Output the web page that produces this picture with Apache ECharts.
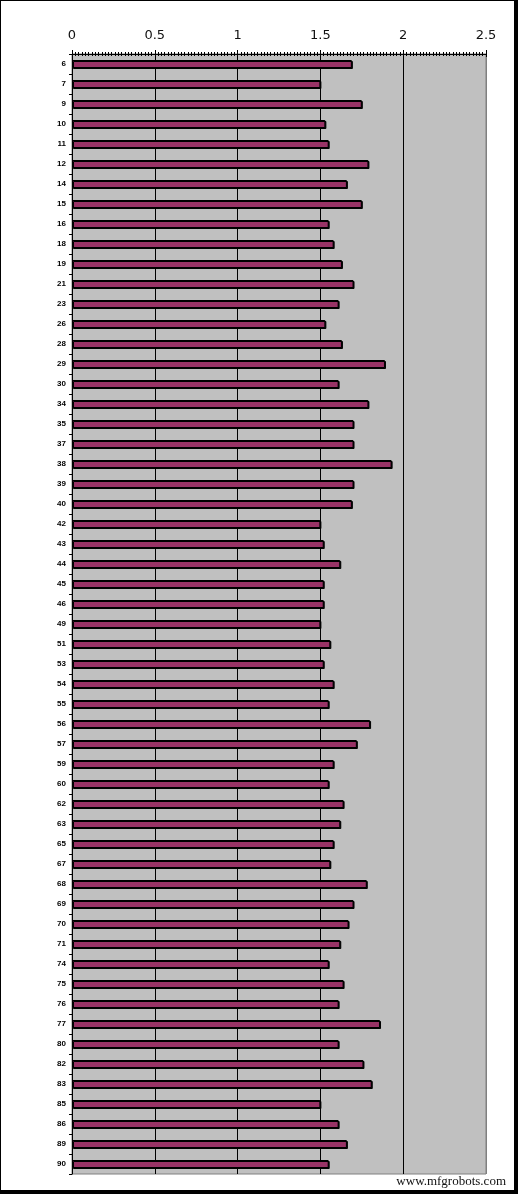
<!DOCTYPE html>
<html>
<head>
<meta charset="utf-8">
<script src="https://cdn.jsdelivr.net/npm/echarts@6/dist/echarts.min.js"></script>
<style>
html,body{margin:0;padding:0;background:#fff;}
#frame{position:absolute;left:0;top:0;width:513px;height:1189px;border-left:1px solid #000;border-top:1px solid #000;border-right:4px solid #000;border-bottom:4px solid #000;}
#chart{position:absolute;left:0;top:0;width:518px;height:1194px;}
</style>
</head>
<body>
<div id="frame"></div>
<div id="chart"></div>
<script>
const categories = ['6','7','9','10','11','12','14','15','16','18','19','21','23','26','28','29','30','34','35','37','38','39','40','42','43','44','45','46','49','51','53','54','55','56','57','59','60','62','63','65','67','68','69','70','71','74','75','76','77','80','82','83','85','86','89','90'];
const values = [1.69,1.50,1.75,1.53,1.55,1.79,1.66,1.75,1.55,1.58,1.63,1.70,1.61,1.53,1.63,1.89,1.61,1.79,1.70,1.70,1.93,1.70,1.69,1.50,1.52,1.62,1.52,1.52,1.50,1.56,1.52,1.58,1.55,1.80,1.72,1.58,1.55,1.64,1.62,1.58,1.56,1.78,1.70,1.67,1.62,1.55,1.64,1.61,1.86,1.61,1.76,1.81,1.50,1.61,1.66,1.55];
const xTicks = ['0','0.5','1','1.5','2','2.5'];

const chart = echarts.init(document.getElementById('chart'), null, {renderer:'canvas'});
chart.setOption({
  animation:false,
  grid:{left:72, top:54, right:32, bottom:20, show:true, backgroundColor:'#c0c0c0', borderColor:'#808080', borderWidth:1},
  xAxis:[{
    type:'value', position:'top', min:0, max:2.5, interval:0.5,
    axisLine:{show:true, lineStyle:{color:'#000', width:1}},
    axisTick:{show:true, length:4, lineStyle:{color:'#000'}},
    minorTick:{show:true, splitNumber:25, length:2, lineStyle:{color:'#000'}},
    axisLabel:{margin:12, fontSize:13, color:'#111', fontFamily:'DejaVu Sans', formatter:(v,i)=>xTicks[i]},
    splitLine:{show:true, lineStyle:{color:['#000','#000','#000','#000','#000','#808080'], width:1}}
  },{
    type:'value', position:'top', min:0, max:2.5, interval:0.5,
    axisLine:{show:false},
    axisTick:{show:true, inside:true, length:3, lineStyle:{color:'#000'}},
    minorTick:{show:true, splitNumber:25, length:2, lineStyle:{color:'#000'}},
    axisLabel:{show:false}, splitLine:{show:false}
  }],
  yAxis:{
    type:'category', data:categories, inverse:true,
    axisLine:{show:true, lineStyle:{color:'#000', width:1}},
    axisTick:{show:true, length:3, lineStyle:{color:'#000'}},
    axisLabel:{margin:6, fontSize:8, fontWeight:'bold', color:'#000', fontFamily:'Liberation Sans', interval:0},
    splitLine:{show:false}
  },
  series:[{
    type:'bar', data:values, barWidth:8, xAxisIndex:0,
    itemStyle:{color:'#993366', borderColor:'#000', borderWidth:1, shadowColor:'#000', shadowOffsetX:1, shadowOffsetY:1, shadowBlur:0}
  }],
  graphic:[{
    type:'text', right:12, bottom:6,
    style:{text:'www.mfgrobots.com', fontFamily:'Liberation Serif', fontSize:13, fill:'#111'}
  }]
});
</script>
</body>
</html>
